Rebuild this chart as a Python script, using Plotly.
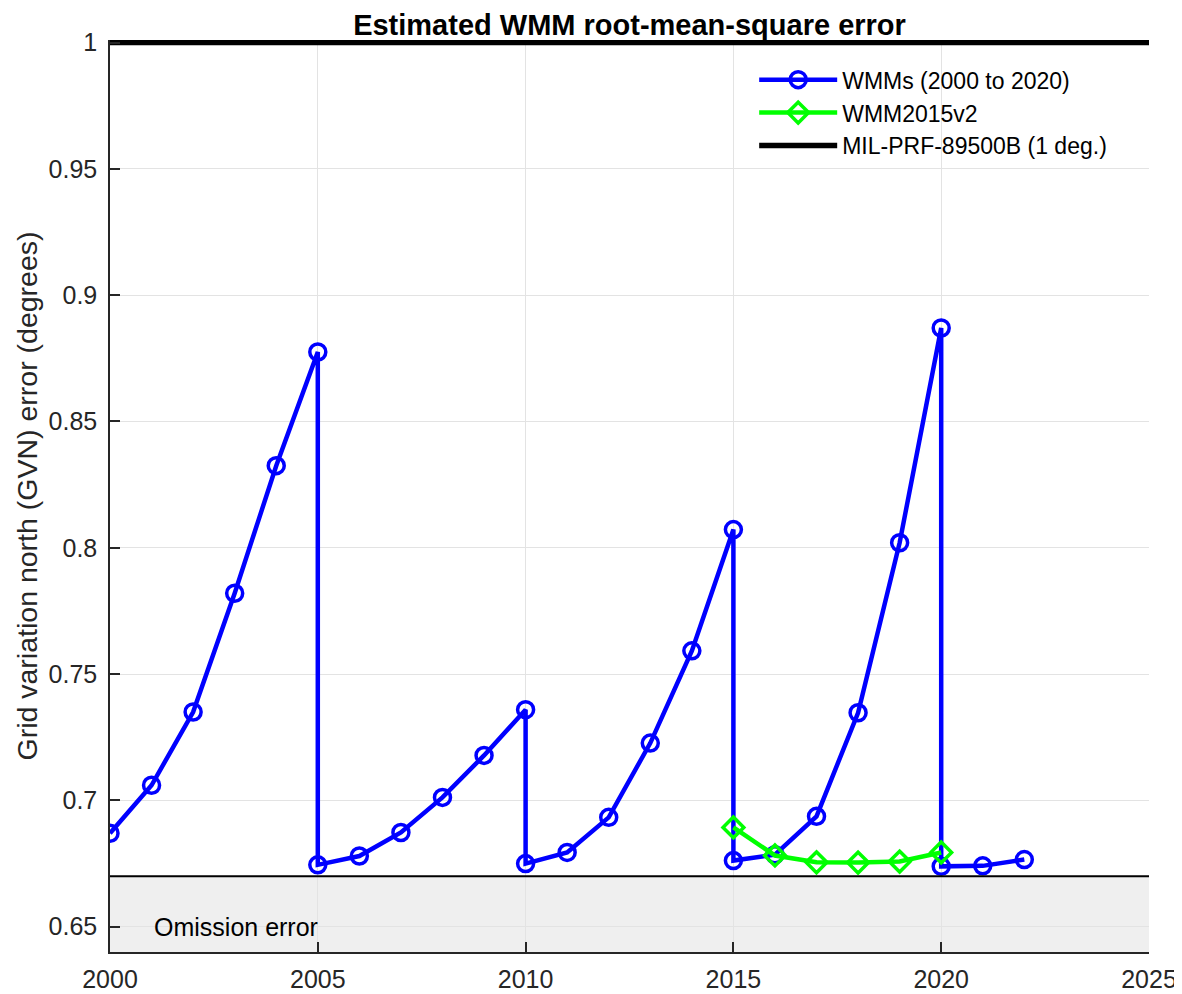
import plotly.graph_objects as go

# ---- data ----
wmm_years = [2000, 2001, 2002, 2003, 2004, 2005,
             2005, 2006, 2007, 2008, 2009, 2010,
             2010, 2011, 2012, 2013, 2014, 2015,
             2015, 2016, 2017, 2018, 2019, 2020,
             2020, 2021, 2022]
wmm_rmse = [0.687, 0.706, 0.735, 0.782, 0.8325, 0.8775,
            0.6745, 0.678, 0.6873, 0.7012, 0.7178, 0.7359,
            0.675, 0.6794, 0.6933, 0.7227, 0.7592, 0.8072,
            0.6762, 0.6785, 0.6937, 0.7347, 0.802, 0.887,
            0.6739, 0.6741, 0.6766]

v2_years = [2015, 2016, 2017, 2018, 2019, 2020]
v2_rmse = [0.6893, 0.6782, 0.6755, 0.6754, 0.6758, 0.6794]

spec_years = [2000, 2025]
spec_level = [1.0, 1.0]

omission_level = 0.67
y_min = 0.64

x_ticks = [2000, 2005, 2010, 2015, 2020, 2025]
y_ticks = [0.65, 0.7, 0.75, 0.8, 0.85, 0.9, 0.95, 1.0]
y_ticklabels = ["0.65", "0.7", "0.75", "0.8", "0.85", "0.9", "0.95", "1"]

FONT = "Liberation Sans, Arial, Helvetica, sans-serif"
TXT = "#262626"

fig = go.Figure()

fig.add_trace(go.Scatter(
    x=wmm_years, y=wmm_rmse, mode="lines+markers",
    name="WMMs (2000 to 2020)",
    line=dict(color="#0000ff", width=4.5),
    marker=dict(symbol="circle-open", size=16, color="#0000ff",
                line=dict(width=3.5, color="#0000ff")),
))
fig.add_trace(go.Scatter(
    x=v2_years, y=v2_rmse, mode="lines+markers",
    name="WMM2015v2",
    line=dict(color="#00ff00", width=4.5),
    marker=dict(symbol="diamond-open", size=16, color="#00ff00",
                line=dict(width=3.5, color="#00ff00")),
))
fig.add_trace(go.Scatter(
    x=spec_years, y=spec_level, mode="lines",
    name="MIL-PRF-89500B (1 deg.)",
    line=dict(color="black", width=5.5),
))

# omission error region
fig.add_shape(type="rect", xref="x", yref="y",
              x0=spec_years[0], x1=spec_years[1], y0=y_min, y1=omission_level,
              fillcolor="#efefef", line=dict(width=0), layer="below")
fig.add_shape(type="line", xref="x", yref="y",
              x0=spec_years[0], x1=spec_years[1], y0=omission_level, y1=omission_level,
              line=dict(color="black", width=2), layer="above")

fig.add_annotation(x=2001, y=0.65, xref="x", yref="y", text="Omission error",
                   showarrow=False, xanchor="left", yanchor="middle",
                   font=dict(family=FONT, size=25, color="black"))

fig.update_layout(
    width=1174, height=986,
    margin=dict(l=102, r=33, t=32, b=42, autoexpand=False),
    paper_bgcolor="white", plot_bgcolor="white",
    font=dict(family=FONT, color=TXT),
    title=dict(text="<b>Estimated WMM root-mean-square error</b>",
               x=0.5, xref="paper", y=1 - 17 / 986, yref="container",
               xanchor="center", yanchor="middle",
               font=dict(family=FONT, size=29, color="black")),
    showlegend=True,
    legend=dict(x=0.62, y=0.980, xanchor="left", yanchor="top",
                bgcolor="rgba(255,255,255,0)", borderwidth=0,
                font=dict(family=FONT, size=23, color="black"),
                itemwidth=78, tracegroupgap=0),
    xaxis=dict(range=[2000, 2025], tickvals=x_ticks, automargin=False,
               showgrid=True, gridcolor="#e3e3e3", gridwidth=1,
               showline=True, linecolor=TXT, linewidth=1.5,
               ticks="inside", ticklen=10, tickcolor=TXT, tickwidth=1.5,
               tickfont=dict(family=FONT, size=25, color=TXT),
               ticklabelstandoff=4, zeroline=False),
    yaxis=dict(range=[y_min, 1.001], tickvals=y_ticks, ticktext=y_ticklabels,
               automargin=False,
               showgrid=True, gridcolor="#e3e3e3", gridwidth=1,
               showline=True, linecolor=TXT, linewidth=1.5,
               ticks="inside", ticklen=10, tickcolor=TXT, tickwidth=1.5,
               tickfont=dict(family=FONT, size=25, color=TXT),
               ticklabelstandoff=6, zeroline=False,
               title=dict(text="Grid variation north (GVN) error (degrees)",
                          font=dict(family=FONT, size=28.5, color=TXT),
                          standoff=3)),
)

fig.write_html("out.html")
